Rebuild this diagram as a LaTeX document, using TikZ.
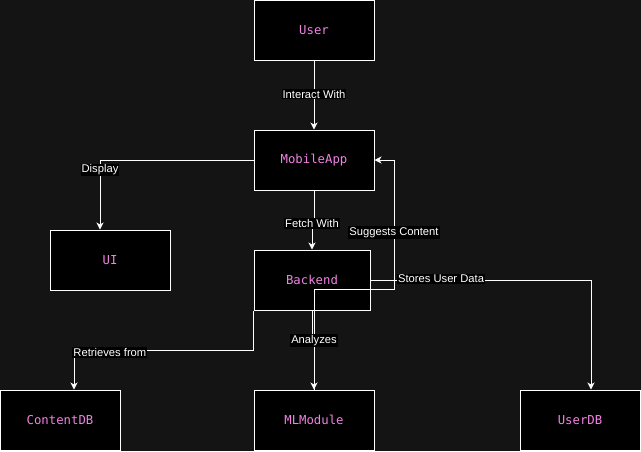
\documentclass[tikz,border=0pt]{standalone}
\usepackage{fontspec}
\setmainfont{Liberation Sans}
\newfontfamily\boxfont{DejaVu Sans Mono}
\usetikzlibrary{arrows.meta}
\definecolor{canvas}{RGB}{20,20,20}
\definecolor{pinktext}{RGB}{240,130,225}
\tikzset{
  box/.style={draw=white, fill=black, line width=1pt, minimum width=120pt, minimum height=60pt,
    inner sep=0pt, text=pinktext, font=\boxfont\fontsize{12.3}{14}\selectfont},
  edge/.style={draw=white, line width=1pt, -{Stealth[length=7pt,width=7pt,inset=2pt]}},
  lbl/.style={fill=black, text=white, inner sep=1pt, font=\fontsize{11.2}{13}\selectfont}
}
\begin{document}
\begin{tikzpicture}[x=1pt,y=-1pt]
\useasboundingbox[fill=canvas] (0,0) rectangle (641,451);
\node[box] (User) at (314,30.5) {User};
\node[box] (MobileApp) at (314,160) {MobileApp};
\node[box] (UI) at (110,260) {UI};
\node[box, minimum width=116pt] (Backend) at (312,280) {Backend};
\node[box] (ContentDB) at (60,420) {ContentDB};
\node[box] (MLModule) at (314,420) {MLModule};
\node[box] (UserDB) at (580,420) {UserDB};

\draw[edge] (User.south) -- node[lbl, pos=0.47, yshift=-1pt] {Interact With} (MobileApp.north);
\draw[edge] (MobileApp.west) -| node[lbl, pos=0.57] {Display} ([xshift=-10pt]UI.north);
\draw[edge] (MobileApp.south) -- ++(0,32) -| node[lbl, pos=0.5, yshift=-1pt] {Fetch With} (Backend.north);
\draw[edge] (MLModule.north) -- ++(0,-100) -- ++(80,0) |- node[lbl, pos=0.22] {Suggests Content} (MobileApp.east);
\draw[edge] (Backend.south) -- ++(0,30) -| node[lbl, pos=0.5] {Analyzes} (MLModule.north);
\draw[edge] (Backend.east) -| node[lbl, pos=0.16, yshift=1pt] {Stores User Data} ([xshift=11pt]UserDB.north);
\draw[edge] (Backend.south west) -- ++(0,40) -| node[lbl, pos=0.4, yshift=-2pt] {Retrieves from} ([xshift=14pt]ContentDB.north);
\end{tikzpicture}
\end{document}
